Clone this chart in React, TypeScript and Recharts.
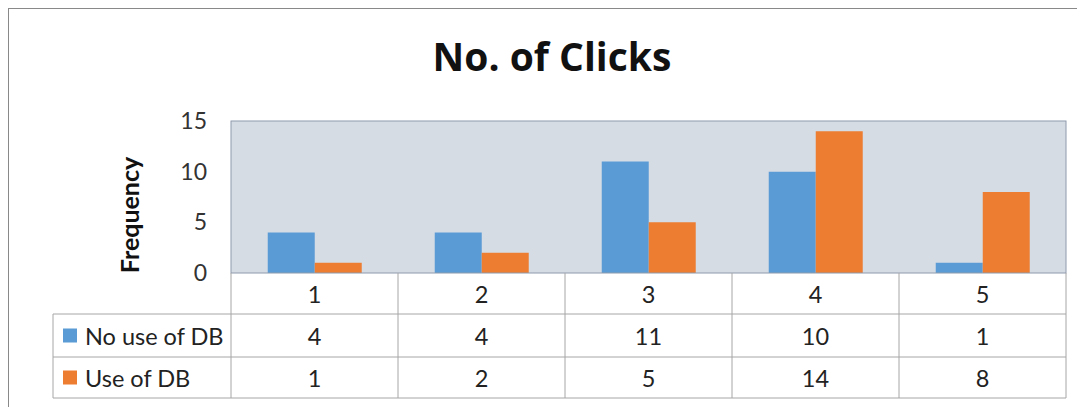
import { BarChart, Bar, XAxis, YAxis, CartesianGrid } from 'recharts'

const categories = ['1', '2', '3', '4', '5']
const noUseOfDB = [4, 4, 11, 10, 1]
const useOfDB = [1, 2, 5, 14, 8]
const yTicks = [0, 5, 10, 15]

const seriesRows = [
  { name: 'No use of DB', values: noUseOfDB, color: '#5B9BD5' },
  { name: 'Use of DB', values: useOfDB, color: '#ED7D31' },
]

const data = categories.map((c, i) => ({
  cat: c,
  noUse: noUseOfDB[i],
  use: useOfDB[i],
}))

const W = 1076
const H = 398
const PLOT_LEFT = 222
const PLOT_TOP = 112
const PLOT_RIGHT = 1057
const PLOT_BOTTOM = 264
const ROW_BOTTOMS = [305, 348, 389]
const LEGEND_LEFT = 44
const GRID = '#A6A6A6'
const FONT = 'Lato, "Open Sans", sans-serif'

const TableTick = (props: any) => {
  const { x, payload } = props
  const idx = payload.index
  const band = (PLOT_RIGHT - PLOT_LEFT) / categories.length
  const right = x + band / 2
  const rowMid = (r: number) => ((r === 0 ? PLOT_BOTTOM : ROW_BOTTOMS[r - 1]) + ROW_BOTTOMS[r]) / 2

  return (
    <g fontFamily={FONT} fontSize={23.5} fill="#222">
      {idx === 0 && (
        <g>
          <rect
            x={PLOT_LEFT}
            y={PLOT_TOP}
            width={PLOT_RIGHT - PLOT_LEFT}
            height={PLOT_BOTTOM - PLOT_TOP}
            fill="none"
            stroke="#8E9AAB"
          />
          <line x1={PLOT_LEFT} x2={PLOT_LEFT} y1={PLOT_BOTTOM} y2={ROW_BOTTOMS[2]} stroke={GRID} />
          <line x1={LEGEND_LEFT} x2={LEGEND_LEFT} y1={ROW_BOTTOMS[0]} y2={ROW_BOTTOMS[2]} stroke={GRID} />
          {ROW_BOTTOMS.map((yy) => (
            <line key={yy} x1={LEGEND_LEFT} x2={PLOT_RIGHT} y1={yy} y2={yy} stroke={GRID} />
          ))}
          {seriesRows.map((s, r) => (
            <g key={s.name}>
              <rect x={LEGEND_LEFT + 10} y={rowMid(r + 1) - 7} width={14} height={14} fill={s.color} />
              <text x={LEGEND_LEFT + 32} y={rowMid(r + 1)} dominantBaseline="central">
                {s.name}
              </text>
            </g>
          ))}
        </g>
      )}
      <line x1={right} x2={right} y1={PLOT_BOTTOM} y2={ROW_BOTTOMS[2]} stroke={GRID} />
      <text x={x} y={rowMid(0)} textAnchor="middle" dominantBaseline="central">
        {payload.value}
      </text>
      {seriesRows.map((s, r) => (
        <text key={s.name} x={x} y={rowMid(r + 1)} textAnchor="middle" dominantBaseline="central">
          {s.values[idx]}
        </text>
      ))}
    </g>
  )
}

const App = () => {
  return (
    <div
      style={{
        width: W,
        height: H,
        borderLeft: '1px solid #898989',
        borderTop: '1px solid #898989',
        background: '#fff',
      }}
    >
      <BarChart
        width={W}
        height={H}
        data={data}
        margin={{ top: PLOT_TOP, right: W - PLOT_RIGHT, bottom: 0, left: 0 }}
        barCategoryGap="22%"
        barGap={0}
      >
        <CartesianGrid fill="#D6DCE4" horizontal={false} vertical={false} />
        <text
          x={543}
          y={62}
          textAnchor="middle"
          fontFamily='"Open Sans", Lato, sans-serif'
          fontWeight="bold"
          fontSize={39}
          fill="#111"
        >
          No. of Clicks
        </text>
        <text
          x={120}
          y={206}
          textAnchor="middle"
          dominantBaseline="central"
          fontFamily={FONT}
          fontWeight="bold"
          fontSize={25}
          fill="#111"
          transform="rotate(-90 120 206)"
        >
          Frequency
        </text>
        <XAxis
          dataKey="cat"
          height={H - PLOT_BOTTOM}
          axisLine={false}
          tickLine={false}
          tick={<TableTick />}
          interval={0}
        />
        <YAxis
          width={PLOT_LEFT}
          domain={[0, 15]}
          ticks={yTicks}
          axisLine={false}
          tickLine={false}
          tickSize={0}
          tickMargin={24}
          tick={{ fontFamily: FONT, fontSize: 23, fill: '#333' }}
        />
        <Bar dataKey="noUse" fill="#5B9BD5" isAnimationActive={false} />
        <Bar dataKey="use" fill="#ED7D31" isAnimationActive={false} />
      </BarChart>
    </div>
  )
}

export default App
